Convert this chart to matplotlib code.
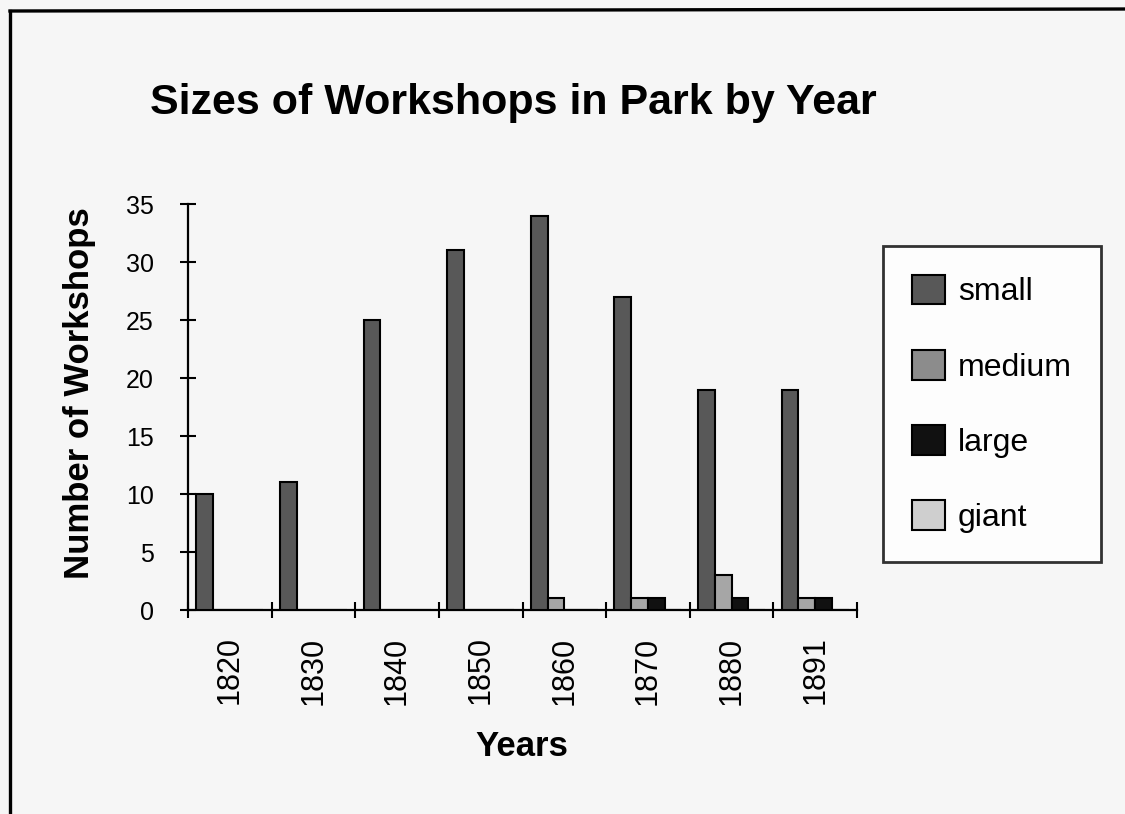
import matplotlib.pyplot as plt
import numpy as np
from matplotlib.lines import Line2D
from matplotlib.patches import Patch

plt.rcParams["font.family"] = ["Liberation Sans", "DejaVu Sans"]

# data
years = ["1820", "1830", "1840", "1850", "1860", "1870", "1880", "1891"]
small = [10, 11, 25, 31, 34, 27, 19, 19]
medium = [0, 0, 0, 0, 1, 1, 3, 1]
large = [0, 0, 0, 0, 0, 1, 1, 1]
giant = [0, 0, 0, 0, 0, 0, 0, 0]

series = [
    ("small", small, "#585858"),
    ("medium", medium, "#a6a6a6"),
    ("large", large, "#111111"),
    ("giant", giant, "#cfcfcf"),
]

W, H = 1125, 814
bg = "#f6f6f6"
fig = plt.figure(figsize=(W / 100, H / 100), dpi=100, facecolor=bg)
ax = fig.add_axes([188 / W, 1 - 610 / H, (857 - 188) / W, (610 - 204) / H])
ax.set_facecolor(bg)

x = np.arange(len(years))
bar_w = 0.2
for k, (name, vals, col) in enumerate(series):
    ax.bar(x + 0.1 + k * bar_w, vals, width=bar_w, align="edge",
           color=col, edgecolor="black", linewidth=1.5, zorder=3)

ax.set_xlim(0, len(years))
ax.set_ylim(0, 35)
for s in ["top", "right"]:
    ax.spines[s].set_visible(False)
for s in ["left", "bottom"]:
    ax.spines[s].set_linewidth(1.6)

ax.set_yticks(np.arange(0, 36, 5))
ax.tick_params(axis="y", direction="inout", length=11, width=1.5,
               labelsize=18, pad=19)

# boundaries carry the tick marks, centres carry the year labels
ax.set_xticks(np.arange(len(years) + 1))
ax.set_xticklabels([])
ax.set_xticks(x + 0.5, minor=True)
ax.set_xticklabels(years, minor=True, rotation=90, fontsize=22, va="top")
ax.tick_params(axis="x", which="major", direction="inout", length=12, width=1.5)
ax.tick_params(axis="x", which="minor", length=0, pad=19)

fig.text(513 / W, 1 - 103 / H, "Sizes of Workshops in Park by Year",
         ha="center", va="center", fontsize=31, fontweight="bold")
fig.text(80 / W, 1 - 393 / H, "Number of Workshops", rotation=90,
         ha="center", va="center", fontsize=25, fontweight="bold")
fig.text(522 / W, 1 - 746 / H, "Years", ha="center", va="center",
         fontsize=25, fontweight="bold")

handles = [Patch(facecolor=c, edgecolor="black", linewidth=1.5, label=n)
           for n, _, c in series]
handles[1] = Patch(facecolor="#8c8c8c", edgecolor="black", linewidth=1.5, label="medium")
leg = fig.legend(handles=handles, loc="upper left",
                 bbox_to_anchor=(883 / W, 1 - 246 / H), fontsize=23,
                 frameon=True, fancybox=False, edgecolor="black",
                 handlelength=1.05, handleheight=1.05, handletextpad=0.4,
                 labelspacing=1.33, borderpad=0.9, borderaxespad=0)
leg.get_frame().set_linewidth(2)
leg.get_frame().set_facecolor("white")

# page frame from the scan
fig.add_artist(Line2D([10 / W, 10 / W], [0, 1 - 11 / H], color="black", lw=2.4))
fig.add_artist(Line2D([10 / W, 1], [1 - 11 / H, 1 - 9 / H], color="black", lw=2.4))

fig.savefig("out.png", dpi=100, facecolor=bg)
